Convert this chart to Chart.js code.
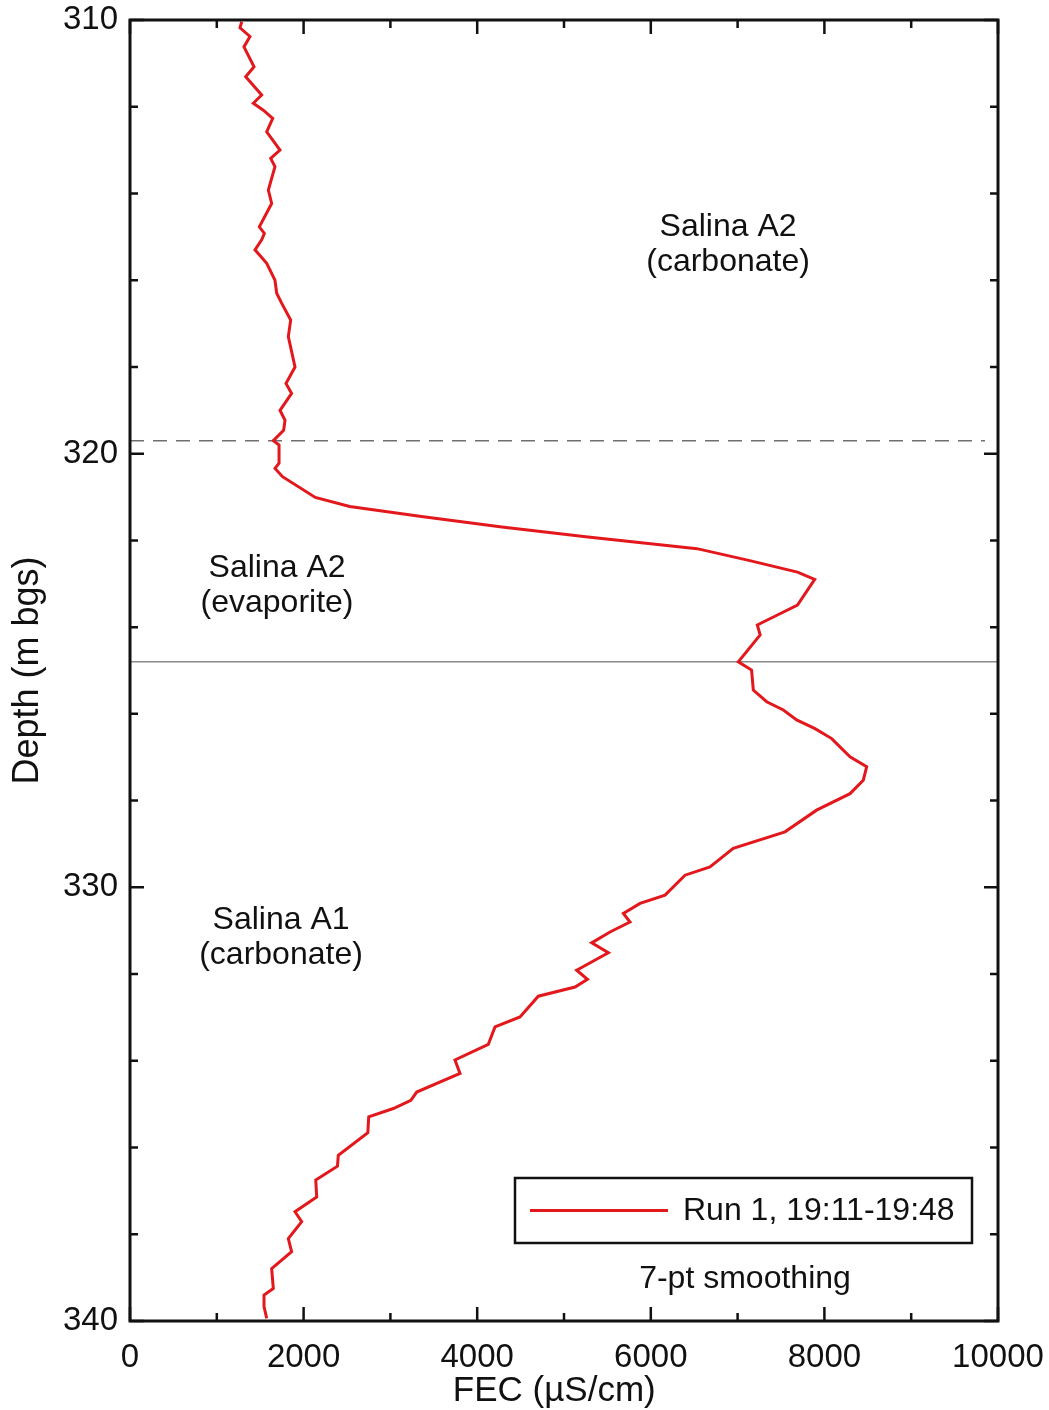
<!DOCTYPE html>
<html>
<head>
<meta charset="utf-8">
<title>FEC profile</title>
<script src="https://cdn.jsdelivr.net/npm/chart.js@4.4.1/dist/chart.umd.min.js"></script>
<style>
  html, body { margin: 0; padding: 0; background: #fff; }
  #wrap { width: 1049px; height: 1410px; }
</style>
</head>
<body>
<div id="wrap"><canvas id="fec" width="1049" height="1410"></canvas></div>
<script>
const depthM = [
  310.04, 310.18, 310.38, 310.62, 311.08, 311.31, 311.73, 311.92, 312.08, 312.27,
  312.58, 313.00, 313.19, 313.38, 313.92, 314.23, 314.77, 314.92, 315.07, 315.30,
  315.61, 316.00, 316.30, 316.53, 316.92, 317.30, 318.00, 318.38, 318.61, 319.00,
  319.23, 319.46, 319.70, 319.80, 320.22, 320.34, 320.53, 321.01, 321.22, 321.45,
  321.69, 321.92, 322.19, 322.46, 322.73, 322.90, 323.49, 323.72, 323.95, 324.18,
  324.80, 324.99, 325.45, 325.72, 325.91, 326.14, 326.34, 326.57, 326.99, 327.22,
  327.53, 327.84, 328.22, 328.72, 329.10, 329.53, 329.72, 330.18, 330.37, 330.60,
  330.80, 331.03, 331.28, 331.51, 331.91, 332.12, 332.30, 332.51, 332.99, 333.22,
  333.62, 333.98, 334.29, 334.72, 334.91, 335.10, 335.29, 335.66, 336.18, 336.43,
  336.75, 337.14, 337.48, 337.71, 338.10, 338.40, 338.79, 339.25, 339.40, 339.67,
  339.94
];
const fecRun1 = [
  1287, 1267, 1382, 1313, 1429, 1333, 1517, 1421, 1536, 1644,
  1575, 1728, 1621, 1670, 1594, 1632, 1490, 1548, 1517, 1440,
  1575, 1670, 1690, 1747, 1851, 1824, 1901, 1797, 1862, 1728,
  1786, 1770, 1651, 1717, 1717, 1671, 1757, 2135, 2531, 3358,
  4284, 5276, 6532, 7128, 7690, 7888, 7690, 7459, 7227, 7260,
  7008, 7161, 7181, 7335, 7527, 7680, 7892, 8084, 8295, 8487,
  8448, 8295, 7910, 7546, 6950, 6682, 6394, 6164, 5876, 5684,
  5760, 5530, 5319, 5511, 5146, 5270, 5127, 4704, 4493, 4205,
  4128, 3744, 3802, 3303, 3236, 3034, 2750, 2740, 2400, 2390,
  2140, 2151, 1901, 1978, 1824, 1862, 1632, 1651, 1544, 1544,
  1575
];

// formation contacts
const contactDashed = 319.7;   // A2 carbonate / A2 evaporite
const contactSolid = 324.8;    // A2 evaporite / A1 carbonate

const xTickLabels = [0, 2000, 4000, 6000, 8000, 10000];
const yTickLabels = [310, 320, 330, 340];

const units = [
  { lines: ['Salina A2', '(carbonate)'], x: 6890, y: 315.18 },
  { lines: ['Salina A2', '(evaporite)'], x: 1694, y: 323.04 },
  { lines: ['Salina A1', '(carbonate)'], x: 1740, y: 331.14 }
];
const noteText = '7-pt smoothing';

const FONT = '"Liberation Sans", Arial, sans-serif';
const RED = '#e3181c';

// frame, inward ticks, labels and the boxed legend
const decor = {
  id: 'decor',
  afterDatasetsDraw(chart) {
    const { ctx, chartArea: a, scales: { x, y } } = chart;
    ctx.save();
    ctx.strokeStyle = '#111';
    ctx.lineWidth = 2.5;
    ctx.beginPath();
    y.ticks.forEach(t => {
      const py = y.getPixelForValue(t.value);
      const len = t.value % 10 === 0 ? 14 : 8;
      ctx.moveTo(a.left, py); ctx.lineTo(a.left + len, py);
      ctx.moveTo(a.right, py); ctx.lineTo(a.right - len, py);
    });
    x.ticks.forEach(t => {
      const px = x.getPixelForValue(t.value);
      const len = t.value % 2000 === 0 ? 14 : 8;
      ctx.moveTo(px, a.bottom); ctx.lineTo(px, a.bottom - len);
      ctx.moveTo(px, a.top); ctx.lineTo(px, a.top + len);
    });
    ctx.stroke();
    ctx.lineWidth = 3;
    ctx.strokeRect(a.left, a.top, a.right - a.left, a.bottom - a.top);
    ctx.restore();
  },
  afterDraw(chart) {
    const { ctx, chartArea: a, scales: { x, y } } = chart;
    ctx.save();
    ctx.fillStyle = '#111';
    ctx.font = '32px ' + FONT;
    ctx.textAlign = 'center';
    ctx.textBaseline = 'middle';
    units.forEach(u => {
      const px = x.getPixelForValue(u.x);
      const py = y.getPixelForValue(u.y);
      ctx.fillText(u.lines[0], px, py - 17);
      ctx.fillText(u.lines[1], px, py + 18);
    });
    ctx.fillText(noteText, a.right - 253, a.bottom - 42);

    // legend box
    const bx = a.right - 483, by = a.bottom - 143, bw = 457, bh = 65;
    ctx.fillStyle = '#fff';
    ctx.fillRect(bx, by, bw, bh);
    ctx.strokeStyle = '#111';
    ctx.lineWidth = 2.5;
    ctx.strokeRect(bx, by, bw, bh);
    const ds = chart.data.datasets[0];
    ctx.strokeStyle = ds.borderColor;
    ctx.lineWidth = 3;
    ctx.beginPath();
    ctx.moveTo(bx + 15, by + bh / 2);
    ctx.lineTo(bx + 153, by + bh / 2);
    ctx.stroke();
    ctx.fillStyle = '#111';
    ctx.textAlign = 'left';
    ctx.fillText(ds.label, bx + 168, by + bh / 2 + 1);
    ctx.restore();
  }
};

new Chart(document.getElementById('fec'), {
  type: 'line',
  data: {
    datasets: [
      {
        label: 'Run 1, 19:11-19:48',
        data: depthM.map((d, i) => ({ x: fecRun1[i], y: d })),
        borderColor: RED,
        borderWidth: 3,
        pointRadius: 0,
        tension: 0
      },
      {
        label: 'contact A2 carbonate',
        data: [{ x: 0, y: contactDashed }, { x: 9850, y: contactDashed }],
        borderColor: '#6f6f6f',
        borderWidth: 1.5,
        borderDash: [14, 9],
        pointRadius: 0
      },
      {
        label: 'contact A1',
        data: [{ x: 0, y: contactSolid }, { x: 10000, y: contactSolid }],
        borderColor: '#8a8a8a',
        borderWidth: 1.5,
        pointRadius: 0
      }
    ]
  },
  options: {
    responsive: false,
    animation: false,
    layout: { padding: { top: 20, right: 51, left: 0, bottom: 0 } },
    plugins: {
      legend: { display: false },
      tooltip: { enabled: false }
    },
    scales: {
      x: {
        type: 'linear',
        min: 0,
        max: 10000,
        grid: { display: false, drawTicks: false },
        border: { display: false },
        ticks: {
          stepSize: 1000,
          autoSkip: false,
          maxRotation: 0,
          padding: 17,
          color: '#111',
          font: { family: FONT, size: 33 },
          callback: v => xTickLabels.includes(v) ? String(v) : ''
        },
        title: {
          display: true,
          text: 'FEC (µS/cm)\u00a0\u00a0',
          color: '#111',
          font: { family: FONT, size: 35, lineHeight: 1.05 },
          padding: { top: 0, bottom: 0 }
        },
        afterFit(s) { s.height = 89; s.paddingLeft = 0; s.paddingRight = 0; }
      },
      y: {
        type: 'linear',
        reverse: true,
        min: 310,
        max: 340,
        grid: { display: false, drawTicks: false },
        border: { display: false },
        ticks: {
          stepSize: 2,
          autoSkip: false,
          padding: 12,
          color: '#111',
          font: { family: FONT, size: 33 },
          callback: v => yTickLabels.includes(v) ? String(v) : ''
        },
        title: {
          display: true,
          text: 'Depth (m bgs)',
          color: '#111',
          font: { family: FONT, size: 36 },
          padding: { top: 6, bottom: 0 }
        },
        afterFit(s) { s.width = 130; s.paddingTop = 0; s.paddingBottom = 0; }
      }
    }
  },
  plugins: [decor]
});
</script>
</body>
</html>
